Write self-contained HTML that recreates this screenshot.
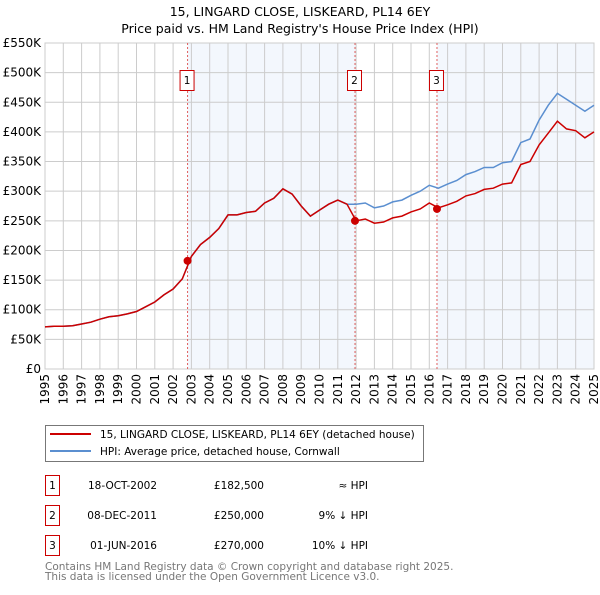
<!DOCTYPE html>
<html><head><meta charset="utf-8"><style>
body{margin:0;background:#fff;font-family:"Liberation Sans","DejaVu Sans",sans-serif;}
svg text{font-family:"DejaVu Sans","Liberation Sans",sans-serif;}
</style></head><body>
<svg id="c" width="600" height="590" viewBox="0 0 600 590">
<text x="300" y="16" font-size="12.5" text-anchor="middle">15, LINGARD CLOSE, LISKEARD, PL14 6EY</text>
<text x="300" y="33" font-size="12.5" text-anchor="middle">Price paid vs. HM Land Registry's House Price Index (HPI)</text>
<g id="plot"></g>
<g>
<rect x="45.5" y="425.5" width="378" height="36" fill="#fff" stroke="#777"/>
<line x1="50" y1="434" x2="91" y2="434" stroke="#cc0000" stroke-width="2"/>
<text x="100" y="438" font-size="10.5">15, LINGARD CLOSE, LISKEARD, PL14 6EY (detached house)</text>
<line x1="50" y1="451" x2="91" y2="451" stroke="#5b8fd0" stroke-width="2"/>
<text x="100" y="455" font-size="10.5">HPI: Average price, detached house, Cornwall</text>
</g>
<g font-size="10.5">
<rect x="45.5" y="475.5" width="14" height="20" fill="none" stroke="#cc0000"/><text x="52.5" y="489" text-anchor="middle">1</text>
<text x="157" y="489" text-anchor="end">18-OCT-2002</text><text x="264" y="489" text-anchor="end">£182,500</text><text x="368" y="489" text-anchor="end">≈ HPI</text>
<rect x="45.5" y="505.5" width="14" height="20" fill="none" stroke="#cc0000"/><text x="52.5" y="519" text-anchor="middle">2</text>
<text x="157" y="519" text-anchor="end">08-DEC-2011</text><text x="264" y="519" text-anchor="end">£250,000</text><text x="368" y="519" text-anchor="end">9% ↓ HPI</text>
<rect x="45.5" y="535.5" width="14" height="20" fill="none" stroke="#cc0000"/><text x="52.5" y="549" text-anchor="middle">3</text>
<text x="157" y="549" text-anchor="end">01-JUN-2016</text><text x="264" y="549" text-anchor="end">£270,000</text><text x="368" y="549" text-anchor="end">10% ↓ HPI</text>
</g>
<text x="45" y="570" font-size="10.5" fill="#777">Contains HM Land Registry data © Crown copyright and database right 2025.</text>
<text x="45" y="580" font-size="10.5" fill="#777">This data is licensed under the Open Government Licence v3.0.</text>
</svg>
<script>
const hpiStart = 1995;
const hpiValues = [71,72,72,73,76,79,84,88,90,93,97,105,113,125,135,152,190,210,222,237,260,260,264,266,280,288,304,295,275,258,268,278,285,278,278,280,272,275,282,285,293,300,310,305,312,318,328,333,340,340,348,350,382,388,420,445,465,455,445,435,445];
const propValues = [71,72,72,73,76,79,84,88,90,93,97,105,113,125,135,152,190,210,222,237,260,260,264,266,280,288,304,295,275,258,268,278,285,278,250,253,246,248,255,258,265,270,280,272,277,283,292,296,303,305,312,314,345,350,378,398,418,405,402,390,400];
const saleDates = [2002.79, 2011.94, 2016.42];
const salePrices = [182.5, 250, 270];
const saleLabels = ["1","2","3"];
const yTicks = [0,50,100,150,200,250,300,350,400,450,500,550];
const xYears = [];
for (let y = 1995; y <= 2025; y++) xYears.push(y);

const X0=45,X1=594,Y0=369,Y1=43;
const xs = t => X0 + (t-1995)/(2025-1995)*(X1-X0);
const ys = v => Y0 - v/550*(Y0-Y1);
const NS="http://www.w3.org/2000/svg";
const g=document.getElementById('plot');
function mk(tag,attrs){const e=document.createElementNS(NS,tag);for(const k in attrs)e.setAttribute(k,attrs[k]);g.appendChild(e);return e;}

let r=mk('rect',{x:xs(saleDates[0]),y:Y1,width:xs(saleDates[1])-xs(saleDates[0]),height:Y0-Y1,fill:'#eef3fc',opacity:0.7});


r=mk('rect',{x:xs(saleDates[2]),y:Y1,width:X1-xs(saleDates[2]),height:Y0-Y1,fill:'#eef3fc',opacity:0.7});



yTicks.forEach(v=>{
  const l=mk('line',{x1:X0,x2:X1,y1:ys(v),y2:ys(v),stroke:'#ccc','stroke-width':1});
  
  
  const t=mk('text',{x:X0-4,y:ys(v)+4,'font-size':12,'text-anchor':'end'});
  t.textContent = v===0?'£0':'£'+v+'K';
  
  
});
xYears.forEach(y=>{
  const l=mk('line',{x1:xs(y),x2:xs(y),y1:Y1,y2:Y0,stroke:'#ccc','stroke-width':1});
  
  
  const t=mk('text',{x:0,y:0,'font-size':12,'text-anchor':'end',transform:`translate(${xs(y)+4},${Y0+5}) rotate(-90)`});
  t.textContent=y;
  
  
});
const ax=mk('rect',{x:X0,y:Y1,width:X1-X0,height:Y0-Y1,fill:'none',stroke:'#ccc'});



saleDates.forEach((d,i)=>{
  const l=mk('line',{x1:xs(d),x2:xs(d),y1:Y1,y2:Y0,stroke:'#e06060','stroke-width':1,'stroke-dasharray':'2,2'});
  
  
});

function path(vals,color,name){
  const d=vals.map((v,i)=>(i?'L':'M')+xs(hpiStart+i*0.5).toFixed(1)+','+ys(v).toFixed(1)).join('');
  const p=mk('path',{d:d,fill:'none',stroke:color,'stroke-width':1.5});
  
  
}
path(hpiValues,'#5b8fd0','hpi-line');
path(propValues,'#cc0000','property-line');

saleDates.forEach((d,i)=>{
  const c=mk('circle',{cx:xs(d),cy:ys(salePrices[i]),r:4,fill:'#cc0000'});
  
  
  const b=mk('rect',{x:xs(d)-7.5,y:70.5,width:14,height:20,fill:'#fff',stroke:'#cc0000'});
  
  
  const t=mk('text',{x:xs(d)-0.5,y:84,'font-size':10.5,'text-anchor':'middle'});
  t.textContent=saleLabels[i];
  
  
});
</script>
</body></html>
